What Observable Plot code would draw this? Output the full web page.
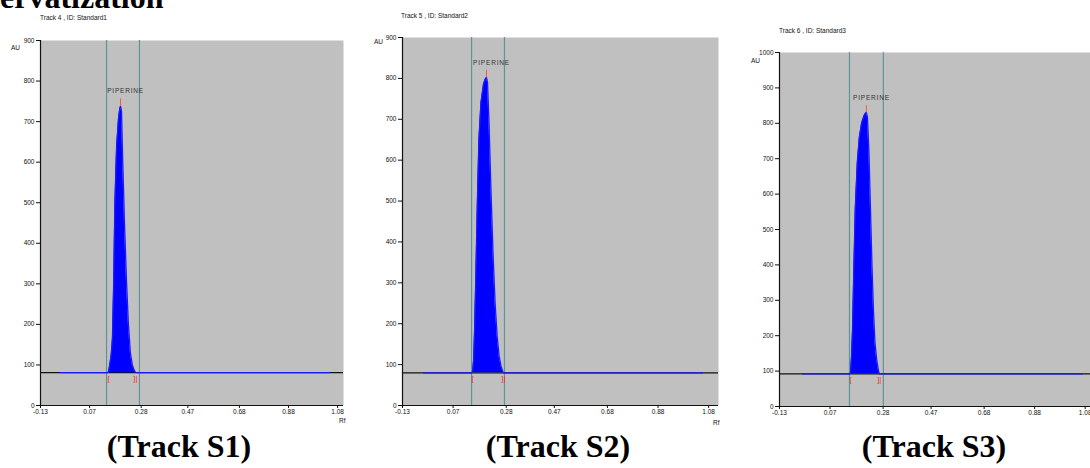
<!DOCTYPE html>
<html>
<head>
<meta charset="utf-8">
<script src="https://cdn.jsdelivr.net/npm/d3@7"></script>
<script src="https://cdn.jsdelivr.net/npm/@observablehq/plot@0.6"></script>
<style>
  body { margin: 0; background: #fff; }
  #root { position: relative; width: 1090px; height: 468px; overflow: hidden; background: #fff; }
  .abs { position: absolute; white-space: nowrap; }
  .small { font-family: 'Liberation Sans Narrow', 'Liberation Sans', Arial, sans-serif; font-size: 6.5px; color: #111; line-height: 1; }
  .cap { font-family: 'Liberation Serif', 'Times New Roman', serif; font-weight: bold; font-size: 32px; line-height: 1; color: #000; text-align: center; }
  .panel { position: absolute; top: 0; }
</style>
</head>
<body>
<div id="root"></div>
<script>
// ---------- data ----------
const headerText = "ervatization";
const trackTitles = ["Track  4 , ID: Standard1", "Track  5 , ID: Standard2", "Track  6 , ID: Standard3"];
const captions = ["(Track S1)", "(Track S2)", "(Track S3)"];
const peakName = "PIPERINE";
const xTicks = [-0.13, 0.07, 0.28, 0.47, 0.68, 0.88, 1.08];
const yTicks900 = [0, 100, 200, 300, 400, 500, 600, 700, 800, 900];
const yTicks1000 = [0, 100, 200, 300, 400, 500, 600, 700, 800, 900, 1000];

// Track S1 (Standard1)
const rfS1 = [-0.05, 0.140, 0.147, 0.152, 0.158, 0.163, 0.168, 0.173, 0.180, 0.188, 0.193, 0.196, 0.200, 0.205, 0.212, 0.220, 0.228, 0.236, 0.244, 0.252, 0.258, 1.045];
const auS1 = [81, 81, 82, 100, 125, 165, 300, 500, 640, 710, 732, 738, 725, 600, 450, 310, 200, 130, 100, 86, 81, 81];
const baseS1 = 81;
const windowS1 = [0.139, 0.273];
const integS1 = [0.147, 0.257];

// Track S2 (Standard2)
const rfS2 = [-0.047, 0.143, 0.147, 0.151, 0.155, 0.160, 0.166, 0.172, 0.180, 0.190, 0.197, 0.202, 0.206, 0.212, 0.220, 0.228, 0.236, 0.244, 0.252, 0.260, 0.268, 1.056];
const auS2 = [80, 80, 82, 110, 185, 320, 500, 650, 740, 785, 798, 802, 790, 690, 520, 370, 250, 170, 120, 95, 80, 80];
const baseS2 = 80;
const windowS2 = [0.143, 0.273];
const integS2 = [0.147, 0.269];

// Track S3 (Standard3)
const rfS3 = [-0.039, 0.147, 0.151, 0.155, 0.159, 0.164, 0.170, 0.178, 0.186, 0.195, 0.205, 0.211, 0.214, 0.218, 0.224, 0.230, 0.236, 0.242, 0.248, 0.255, 0.262, 0.266, 1.068];
const auS3 = [92, 92, 95, 140, 215, 380, 560, 690, 760, 800, 822, 829, 830, 818, 720, 560, 400, 270, 180, 130, 100, 92, 92];
const baseS3 = 92;
const windowS3 = [0.147, 0.281];
const integS3 = [0.151, 0.265];

// ---------- drawing ----------
const root = document.getElementById("root");
function addDiv(cls, text, left, top, extra) {
  const d = document.createElement("div");
  d.className = "abs " + cls;
  d.textContent = text;
  d.style.left = left + "px";
  d.style.top = top + "px";
  if (extra) Object.assign(d.style, extra);
  root.appendChild(d);
  return d;
}

function makePanel(o) {
  const data = o.rf.map((r, i) => ({rf: r, au: o.au[i]}));
  const iMax = d3.maxIndex(o.au);
  const peak = data[iMax];
  const plot = Plot.plot({
    width: o.width,
    height: o.height,
    marginLeft: o.ml, marginRight: o.mr, marginTop: o.mt, marginBottom: o.mb,
    x: {domain: o.xDomain, nice: false},
    y: {domain: o.yDomain, nice: false},
    style: {fontFamily: "'Liberation Sans Narrow', 'Liberation Sans', Arial, sans-serif", fontSize: "6.5px", color: "#111", background: "transparent", overflow: "visible"},
    marks: [
      Plot.frame({fill: "#c0c0c0", stroke: null}),
      Plot.ruleX(o.window, {stroke: "#5f9494", strokeWidth: 1.2}),
      Plot.ruleY([o.base], {stroke: "#111", strokeWidth: 1.3}),
      Plot.areaY(data, {x: "rf", y1: o.base, y2: "au", fill: "#0000ff"}),
      Plot.line(data, {x: "rf", y: "au", stroke: "#1a1aff", strokeWidth: 1.3}),
      Plot.ruleX([peak], {x: "rf", y1: "au", y2: d => d.au + o.yDomain[1] * 0.02, stroke: "#ff5050", strokeWidth: 1}),
      Plot.text([peak], {x: "rf", y: "au", text: () => peakName, dx: 5, dy: -15, fontSize: 6.5, fill: "#333", className: "pk"}),
      Plot.text([o.integ[0]], {x: d => d, y: o.base, text: () => "[", dy: 6, fontSize: 8, fill: "#ff3030"}),
      Plot.text([o.integ[1]], {x: d => d, y: o.base, text: () => "]|", dy: 6, fontSize: 8, fill: "#ff3030"}),
      Plot.ruleX([o.xDomain[0]], {stroke: "#111", strokeWidth: 1.2}),
      Plot.ruleY([0], {stroke: "#111", strokeWidth: 1.2}),
      Plot.axisX({ticks: xTicks, tickFormat: d => d.toFixed(2), tickSize: 3, tickPadding: 1, label: null}),
      Plot.axisY({ticks: o.yTicks, tickFormat: d => String(d), tickSize: 4, tickPadding: 2, label: null})
    ]
  });
  plot.querySelectorAll(".pk text, g.pk text").forEach(t => t.setAttribute("letter-spacing", "0.8"));
  plot.classList.add("panel");
  plot.style.left = o.left + "px";
  root.appendChild(plot);
}

makePanel({rf: rfS1, au: auS1, base: baseS1, window: windowS1, integ: integS1,
  left: 0, width: 355, height: 430, ml: 40, mr: 12, mt: 40, mb: 25,
  xDomain: [-0.13, 1.104], yDomain: [0, 900], yTicks: yTicks900});
makePanel({rf: rfS2, au: auS2, base: baseS2, window: windowS2, integ: integS2,
  left: 360, width: 370, height: 430, ml: 42, mr: 12, mt: 37, mb: 25,
  xDomain: [-0.13, 1.119], yDomain: [0, 900], yTicks: yTicks900});
makePanel({rf: rfS3, au: auS3, base: baseS3, window: windowS3, integ: integS3,
  left: 730, width: 370, height: 431, ml: 49, mr: 9, mt: 52, mb: 25,
  xDomain: [-0.13, 1.105], yDomain: [0, 1000], yTicks: yTicks1000});

// texts
addDiv("cap", headerText, 0, -19, {textAlign: "left"});
addDiv("small", trackTitles[0], 40, 15);
addDiv("small", trackTitles[1], 401, 13);
addDiv("small", trackTitles[2], 779, 28);
addDiv("small", "AU", 11, 45);
addDiv("small", "AU", 374, 39);
addDiv("small", "AU", 751, 58);
addDiv("small", "Rf", 339, 418);
addDiv("small", "Rf", 713, 420);
addDiv("cap", captions[0], 79, 430, {width: "200px"});
addDiv("cap", captions[1], 458, 430, {width: "200px"});
addDiv("cap", captions[2], 834, 430, {width: "200px"});
</script>
</body>
</html>
